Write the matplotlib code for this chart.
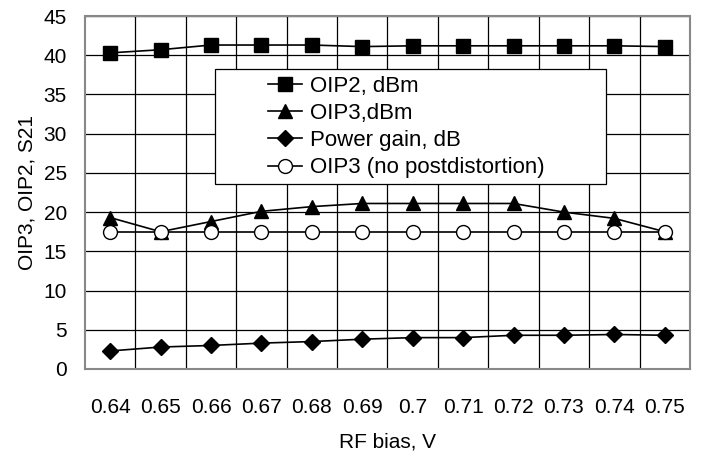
import numpy as np
import matplotlib.pyplot as plt
from matplotlib.patches import Rectangle

plt.rcParams['font.family'] = ['Liberation Sans', 'DejaVu Sans']

# data
rf_bias = ['0.64', '0.65', '0.66', '0.67', '0.68', '0.69',
           '0.7', '0.71', '0.72', '0.73', '0.74', '0.75']
oip2 = [40.3, 40.7, 41.3, 41.3, 41.3, 41.1, 41.2, 41.2, 41.2, 41.2, 41.2, 41.1]
oip3 = [19.3, 17.5, 18.8, 20.1, 20.7, 21.1, 21.1, 21.1, 21.1, 20.0, 19.2, 17.5]
gain = [2.3, 2.8, 3.0, 3.3, 3.5, 3.8, 4.0, 4.0, 4.3, 4.3, 4.4, 4.3]
oip3_nopd = [17.5] * 12

x = np.arange(len(rf_bias))

fig = plt.figure(figsize=(7.08, 4.55), dpi=100)
ax = fig.add_axes([85 / 708, 1 - 369 / 455, 605 / 708, 353 / 455])

ms = 10
ax.plot(x, oip2, color='black', lw=1.2, marker='s', ms=ms, label='OIP2, dBm', zorder=3)
ax.plot(x, oip3, color='black', lw=1.2, marker='^', ms=ms, label='OIP3,dBm', zorder=3)
ax.plot(x, gain, color='black', lw=1.2, marker='D', ms=8, label='Power gain, dB', zorder=3)
ax.plot(x, oip3_nopd, color='black', lw=1.2, marker='o', ms=ms, mfc='white',
        mew=1.0, label='OIP3 (no postdistortion)', zorder=4)

ax.set_xlim(-0.5, len(x) - 0.5)
ax.set_ylim(0, 45)
ax.set_yticks(np.arange(0, 46, 5))
ax.set_xticks(x)
ax.set_xticklabels(rf_bias)
ax.set_xticks(np.arange(0.5, len(x) - 0.5, 1), minor=True)

ax.grid(True, axis='y', which='major', color='black', lw=0.9)
ax.grid(True, axis='x', which='minor', color='black', lw=0.9)
ax.tick_params(which='both', length=0)
ax.tick_params(axis='y', pad=13, labelsize=15)
ax.tick_params(axis='x', pad=21, labelsize=15)

for s in ax.spines.values():
    s.set_color('#888888')
    s.set_linestyle((0, (1, 1)))
    s.set_linewidth(1.5)

ax.set_xlabel('RF bias, V', fontsize=15, labelpad=11)
ax.set_ylabel('OIP3, OIP2, S21', fontsize=15, labelpad=5)

# legend box (Excel style, wide padding)
box = Rectangle((215 / 708, 1 - 184 / 455), (606 - 215) / 708, (184 - 69) / 455,
                transform=fig.transFigure, facecolor='white', edgecolor='black',
                lw=0.9, zorder=5, clip_on=False)
ax.add_patch(box)
leg = ax.legend(loc='center left', bbox_to_anchor=(268 / 708, 1 - 127 / 455),
                bbox_transform=fig.transFigure, fontsize=16, frameon=False,
                borderpad=0, labelspacing=0.28, handlelength=1.55,
                handletextpad=0.35, borderaxespad=0)
leg.set_zorder(6)

fig.savefig('out.png', dpi=100)
